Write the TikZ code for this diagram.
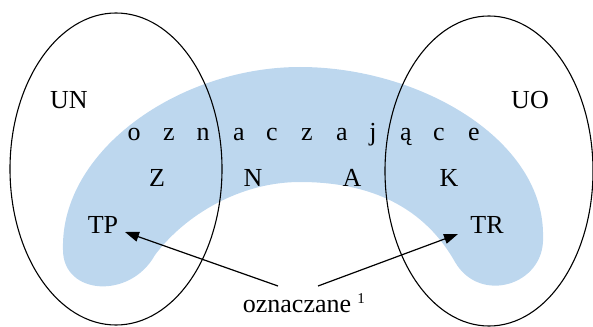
\documentclass[tikz,border=0pt]{standalone}
\usepackage{fontspec}
\setmainfont{Liberation Serif}
\usetikzlibrary{arrows.meta}
\definecolor{bandblue}{RGB}{189,215,238}
\tikzset{
  set/.style={draw=black, line width=1.1pt},
  lbl/.style={font=\fontsize{26}{30}\selectfont, inner sep=0pt, anchor=base},
  pointer/.style={draw=black, line width=1.2pt, -{Triangle[length=14pt,width=10pt]}}
}
\begin{document}
\begin{tikzpicture}[x=1pt,y=-1pt]
\useasboundingbox (0,0) rectangle (593,326);

% the curved band of signs: outer arc, right cap, inner arc, left cap
\fill[bandblue]
  (63,250) .. controls (60,150) and (180,67) .. (300,67)
           .. controls (420,67) and (545,140) .. (543,237)
           .. controls (545,285) and (480,305) .. (455,262)
           .. controls (420,200) and (360,182) .. (300,182)
           .. controls (240,182) and (185,215) .. (155,255)
           .. controls (130,300) and (63,295) .. (63,250) -- cycle;

% the two sets
\draw[set] (116,169) ellipse [x radius=106, y radius=156];
\draw[set] (489,171) ellipse [x radius=104, y radius=155];

\node[lbl] (un) at (69,108) {UN};
\node[lbl] (uo) at (530,108) {UO};

% spaced word along the band
\foreach \ch/\xx [count=\i] in {o/134,z/169,n/203,a/239,c/272,z/307,a/342,j/373,ą/406,c/439,e/474}
  \node[lbl] (w\i) at (\xx,140) {\ch};

\node[lbl] (cz) at (157,186) {Z};
\node[lbl] (cn) at (253,186) {N};
\node[lbl] (ca) at (352,186) {A};
\node[lbl] (ck) at (449,186) {K};

\node[lbl] (tp) at (103,233) {TP};
\node[lbl] (tr) at (487,233) {TR};

\node[lbl] (ozn) at (297,312) {oznaczane};
\node[font=\fontsize{15}{15}\selectfont, inner sep=0pt, anchor=base] (fn) at (361,303) {1};

\coordinate (lstart) at (278,286);
\coordinate (rstart) at (318,286);
\coordinate (tptip) at (125,232);
\coordinate (trtip) at (458,234);

\draw[pointer] (lstart) -- (tptip);
\draw[pointer] (rstart) -- (trtip);
\end{tikzpicture}
\end{document}
